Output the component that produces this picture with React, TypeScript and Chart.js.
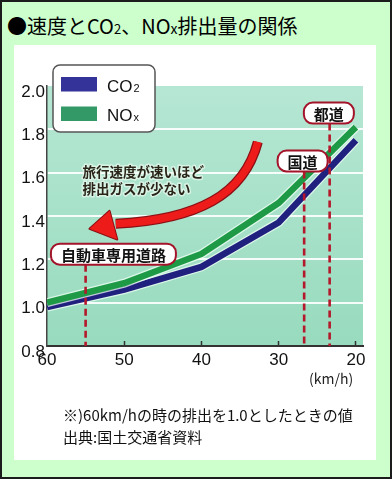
import React, { useEffect, useRef } from "react";
import { Chart, registerables } from "chart.js";

Chart.register(...registerables);

// ---- data ----
const SPEEDS = [60, 50, 40, 30, 20];
const CO2 = [0.98, 1.06, 1.165, 1.37, 1.75];
const NOX = [1.0, 1.09, 1.225, 1.46, 1.81];
const X_TICKS = [60, 50, 40, 30, 20];
const Y_TICKS = [0.8, 1.0, 1.2, 1.4, 1.6, 1.8, 2.0];
const SERIES_LABELS = ["CO", "NO"];
const SERIES_SUFFIX = ["2", "x"];

// road-type callouts (speed of dashed line, box centre in data units)
const ROAD_LABELS = ["自動車専用道路", "国道", "都道"];
const ROAD_SPEEDS = [55, 26.7, 23.4];
const ROAD_BOX_SPEEDS = [51.4, 26.9, 23.5];
const ROAD_BOX_VALUES = [1.224, 1.654, 1.875];

// red arrow (cubic curve + head) in data units
const ARROW_SPEEDS = [32.7, 34.5, 40.5, 51.1];
const ARROW_VALUES = [1.742, 1.498, 1.383, 1.364];
const ARROW_HEAD_SPEEDS = [54.5, 51.9, 50.9];
const ARROW_HEAD_VALUES = [1.341, 1.424, 1.291];
const ARROW_TEXT = ["旅行速度が速いほど", "排出ガスが少ない"];
const ARROW_TEXT_SPEED = 55.4;
const ARROW_TEXT_VALUES = [1.604, 1.526];

const TITLE_PARTS = ["●速度とCO", "2", "、NO", "x", "排出量の関係"];
const NOTE_LINES = ["※)60km/hの時の排出を1.0としたときの値", "出典:国土交通省資料"];
const X_UNIT = "(km/h)";

const JP = '"Noto Sans CJK JP", "Noto Sans", sans-serif';
const LAT = '"Liberation Sans", Arial, sans-serif';

const decorPlugin = {
  id: "decor",
  beforeDraw(chart: any) {
    const { ctx, chartArea: a } = chart;
    const g = ctx.createLinearGradient(0, a.top, 0, a.bottom);
    g.addColorStop(0, "#b6e7d4");
    g.addColorStop(1, "#98dbbe");
    ctx.save();
    ctx.fillStyle = g;
    ctx.fillRect(a.left, a.top, a.right - a.left, a.bottom - a.top);
    ctx.restore();
  },
  afterDatasetsDraw(chart: any) {
    const { ctx, scales } = chart;
    const xs = scales.x;
    const ys = scales.y;
    const px = (v: number) => xs.getPixelForValue(v);
    const py = (v: number) => ys.getPixelForValue(v);
    const axisY = py(0.8);

    ctx.save();
    // callouts
    ctx.font = `bold 15px ${JP}`;
    ROAD_LABELS.forEach((label, i) => {
      const tw = ctx.measureText(label).width;
      const bw = tw + 20;
      const bh = 21;
      const cx = px(ROAD_BOX_SPEEDS[i]);
      const cy = py(ROAD_BOX_VALUES[i]);
      const lx = px(ROAD_SPEEDS[i]);
      // dashed line
      ctx.save();
      ctx.strokeStyle = "#b3182b";
      ctx.lineWidth = 2.6;
      ctx.setLineDash([7, 4]);
      ctx.beginPath();
      ctx.moveTo(lx, cy + bh / 2);
      ctx.lineTo(lx, axisY);
      ctx.stroke();
      ctx.restore();
      // box
      const x0 = cx - bw / 2;
      const y0 = cy - bh / 2;
      ctx.beginPath();
      ctx.roundRect(x0, y0, bw, bh, 9);
      ctx.fillStyle = "#ffffff";
      ctx.fill();
      ctx.lineWidth = 2;
      ctx.strokeStyle = "#a3142a";
      ctx.stroke();
      ctx.fillStyle = "#111";
      ctx.textAlign = "center";
      ctx.textBaseline = "middle";
      ctx.fillText(label, cx, cy + 1);
    });

    // arrow
    const P = ARROW_SPEEDS.map((s, i) => [px(s), py(ARROW_VALUES[i])]);
    const H = ARROW_HEAD_SPEEDS.map((s, i) => [px(s), py(ARROW_HEAD_VALUES[i])]);
    const shaft = () => {
      ctx.beginPath();
      ctx.moveTo(P[0][0], P[0][1]);
      ctx.bezierCurveTo(P[1][0], P[1][1], P[2][0], P[2][1], P[3][0], P[3][1]);
    };
    const head = () => {
      ctx.beginPath();
      ctx.moveTo(H[0][0], H[0][1]);
      ctx.lineTo(H[1][0], H[1][1]);
      ctx.lineTo(H[2][0], H[2][1]);
      ctx.closePath();
    };
    ctx.lineCap = "butt";
    shaft();
    ctx.lineWidth = 10;
    ctx.strokeStyle = "#8c0f14";
    ctx.stroke();
    head();
    ctx.lineWidth = 2;
    ctx.lineJoin = "round";
    ctx.strokeStyle = "#8c0f14";
    ctx.stroke();
    shaft();
    ctx.lineWidth = 7.5;
    ctx.strokeStyle = "#ee1b1b";
    ctx.stroke();
    head();
    ctx.fillStyle = "#ee1b1b";
    ctx.fill();

    // arrow text
    ctx.font = `bold 13.5px ${JP}`;
    ctx.textAlign = "left";
    ctx.textBaseline = "middle";
    ARROW_TEXT.forEach((t, i) => {
      const tx = px(ARROW_TEXT_SPEED);
      const ty = py(ARROW_TEXT_VALUES[i]);
      ctx.lineWidth = 3;
      ctx.strokeStyle = "rgba(235,250,240,0.7)";
      ctx.strokeText(t, tx, ty);
      ctx.fillStyle = "#2a2418";
      ctx.fillText(t, tx, ty);
    });
    ctx.restore();
  },
  afterDraw(chart: any) {
    const { ctx, chartArea: a } = chart;
    const colors = ["#333399", "#339966"];
    const lx = a.left + 6;
    const ly = a.top - 21;
    ctx.save();
    ctx.beginPath();
    ctx.roundRect(lx, ly, 102, 67, 7);
    ctx.fillStyle = "#ffffff";
    ctx.fill();
    ctx.lineWidth = 1.5;
    ctx.strokeStyle = "#555";
    ctx.stroke();
    SERIES_LABELS.forEach((lab, i) => {
      const sy = ly + 12 + i * 29.5;
      ctx.fillStyle = colors[i];
      ctx.fillRect(lx + 8, sy, 36, 14.5);
      ctx.fillStyle = "#111";
      ctx.textAlign = "left";
      ctx.textBaseline = "alphabetic";
      ctx.font = `17px ${LAT}`;
      const base = sy + 14.5;
      ctx.fillText(lab, lx + 54, base);
      const w = ctx.measureText(lab).width;
      ctx.font = `11px ${LAT}`;
      ctx.fillText(SERIES_SUFFIX[i], lx + 55 + w, base);
    });
    ctx.restore();
  },
};

export default function App() {
  const ref = useRef<HTMLCanvasElement | null>(null);

  useEffect(() => {
    if (!ref.current) return;
    const co2Pts = SPEEDS.map((s, i) => ({ x: s, y: CO2[i] }));
    const noxPts = SPEEDS.map((s, i) => ({ x: s, y: NOX[i] }));
    const base = { pointRadius: 0, fill: false, tension: 0, borderCapStyle: "butt" };
    const chart = new Chart(ref.current, {
      type: "line",
      data: {
        datasets: [
          { ...base, label: "NOx", data: noxPts, borderColor: "#1e9a46", borderWidth: 6.5 },
          { ...base, label: "NOx-edge", data: noxPts, borderColor: "rgba(240,255,245,0.75)", borderWidth: 9 },
          { ...base, label: "CO2", data: co2Pts, borderColor: "#20207f", borderWidth: 6.5 },
          { ...base, label: "CO2-edge", data: co2Pts, borderColor: "rgba(240,255,245,0.75)", borderWidth: 9 },
        ] as any,
      },
      options: {
        animation: false,
        responsive: true,
        maintainAspectRatio: false,
        events: [],
        layout: { padding: { left: 0, top: 86, right: 29, bottom: 93 } },
        plugins: { legend: { display: false }, tooltip: { enabled: false }, title: { display: false } },
        scales: {
          x: {
            type: "linear",
            reverse: true,
            min: 19.08,
            max: 60,
            afterBuildTicks: (s: any) => {
              s.ticks = X_TICKS.map((v) => ({ value: v }));
            },
            afterFit: (s: any) => {
              s.height = 40;
            },
            border: { display: true, color: "#333", width: 2 },
            grid: {
              drawOnChartArea: false,
              drawTicks: true,
              tickLength: -5,
              tickWidth: 1.5,
              tickColor: (c: any) => (c.tick && c.tick.value === 60 ? "rgba(0,0,0,0)" : "#333"),
            },
            ticks: {
              padding: 9,
              color: "#111",
              maxRotation: 0,
              autoSkip: false,
              font: { family: LAT, size: 17 },
              callback: (v: any) => String(v),
            },
          },
          y: {
            min: 0.8,
            max: 2.0,
            afterBuildTicks: (s: any) => {
              s.ticks = Y_TICKS.map((v) => ({ value: v }));
            },
            afterFit: (s: any) => {
              s.width = 47;
            },
            border: { display: true, color: "#444", width: 1.5 },
            grid: {
              drawTicks: false,
              lineWidth: 2,
              color: (c: any) =>
                c.tick && (Math.abs(c.tick.value - 2) < 1e-6 || Math.abs(c.tick.value - 0.8) < 1e-6)
                  ? "rgba(0,0,0,0)"
                  : "rgba(255,255,255,0.9)",
            },
            ticks: {
              padding: 2,
              labelOffset: 6,
              color: "#111",
              font: { family: LAT, size: 17 },
              callback: (v: any) => Number(v).toFixed(1),
            },
          },
        },
      } as any,
      plugins: [decorPlugin],
    });
    return () => chart.destroy();
  }, []);

  return (
    <div
      style={{
        position: "absolute",
        left: 0,
        top: 0,
        width: 392,
        height: 479,
        boxSizing: "border-box",
        border: "2px solid #1c1c1c",
        background: "#ccffcc",
        overflow: "hidden",
      }}
    >
      <div
        style={{
          position: "absolute",
          left: 12,
          top: 43,
          width: 362,
          height: 415,
          background: "#ffffff",
        }}
      />
      <div
        style={{
          position: "absolute",
          left: 5,
          top: 12,
          fontFamily: JP,
          fontSize: 20,
          lineHeight: "24px",
          color: "#000",
          whiteSpace: "nowrap",
        }}
      >
        {TITLE_PARTS[0]}
        <span style={{ fontSize: 13 }}>{TITLE_PARTS[1]}</span>
        {TITLE_PARTS[2]}
        <span style={{ fontSize: 14 }}>{TITLE_PARTS[3]}</span>
        {TITLE_PARTS[4]}
      </div>
      <div
        style={{
          position: "absolute",
          left: -2,
          top: -2,
          width: 392,
          height: 479,
        }}
      >
        <canvas ref={ref} />
      </div>
      <div
        style={{
          position: "absolute",
          left: 307,
          top: 366,
          fontFamily: JP,
          fontSize: 14,
          lineHeight: "20px",
          color: "#222",
          whiteSpace: "nowrap",
        }}
      >
        {X_UNIT}
      </div>
      {NOTE_LINES.map((t, i) => (
        <div
          key={i}
          style={{
            position: "absolute",
            left: 61,
            top: 403 + i * 22,
            fontFamily: JP,
            fontSize: 15,
            lineHeight: "20px",
            color: "#111",
            whiteSpace: "nowrap",
          }}
        >
          {t}
        </div>
      ))}
    </div>
  );
}
